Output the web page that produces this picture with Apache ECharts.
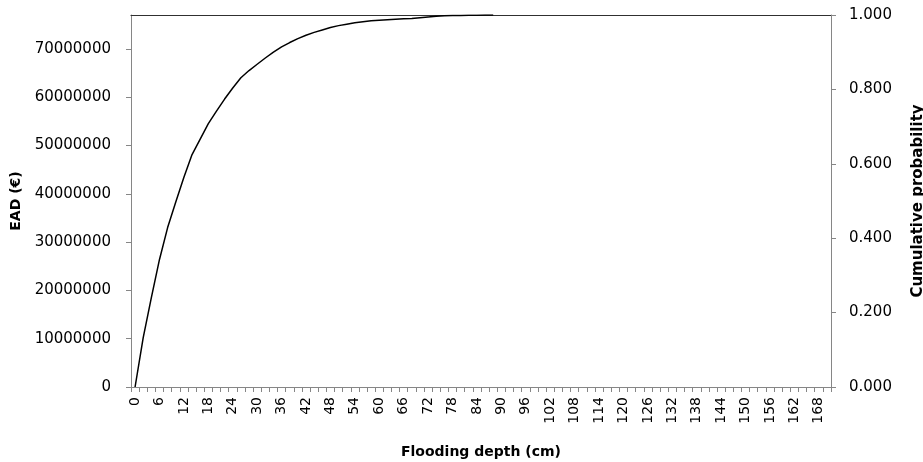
<!DOCTYPE html>
<html>
<head>
<meta charset="utf-8">
<script src="https://cdn.jsdelivr.net/npm/echarts@6/dist/echarts.min.js"></script>
<style>html,body{margin:0;padding:0;background:#fff}#c{width:923px;height:462px}</style>
</head>
<body>
<div id="c"></div>
<script>
// Flooding depth categories (cm)
var depths = ['0','2','4','6','8','10','12','14','16','18','20','22','24','26','28','30','32','34','36','38',
  '40','42','44','46','48','50','52','54','56','58','60','62','64','66','68','70','72','74','76','78',
  '80','82','84','86','88','90','92','94','96','98','100','102','104','106','108','110','112','114','116','118',
  '120','122','124','126','128','130','132','134','136','138','140','142','144','146','148','150','152','154','156','158',
  '160','162','164','166','168','170'];
// EAD (euro)
var ead = [0, 10200000, 18500000, 26400000, 33000000, 38300000, 43400000, 48100000, 51300000, 54500000,
  57100000, 59600000, 61900000, 64000000, 65500000, 66800000, 68100000, 69300000, 70400000, 71300000,
  72100000, 72800000, 73400000, 73900000, 74400000, 74800000, 75100000, 75400000, 75600000, 75800000,
  75900000, 76000000, 76100000, 76200000, 76300000, 76450000, 76600000, 76750000, 76850000, 76900000,
  76900000, 76950000, 76950000, 77000000, 77000000];
var eadTicks = [0, 10000000, 20000000, 30000000, 40000000, 50000000, 60000000, 70000000];
var probTicks = ['0.000', '0.200', '0.400', '0.600', '0.800', '1.000'];

var axisGray = '#868686';
var font = 'DejaVu Sans';
var chart = echarts.init(document.getElementById('c'));
chart.setOption({
  animation: false,
  backgroundColor: '#fff',
  grid: {left: 131, right: 92, top: 15, bottom: 75, containLabel: false, outerBoundsMode: 'none'},
  xAxis: [{
    type: 'category',
    data: depths,
    boundaryGap: true,
    name: 'Flooding depth (cm)',
    nameLocation: 'middle',
    nameGap: 58,
    nameTextStyle: {fontFamily: font, fontSize: 14, fontWeight: 'bold', color: '#000'},
    axisLine: {lineStyle: {color: axisGray, width: 1}},
    axisTick: {show: true, interval: 0, length: 5, lineStyle: {color: axisGray}},
    axisLabel: {interval: 2, rotate: 90, fontFamily: font, fontSize: 14, color: '#000', margin: 10},
    splitLine: {show: false}
  }, {
    type: 'category',
    data: depths,
    position: 'top',
    axisLine: {show: true, onZero: false, lineStyle: {color: '#303030', width: 1.2}},
    axisTick: {show: false},
    axisLabel: {show: false},
    splitLine: {show: false}
  }],
  yAxis: [{
    type: 'value',
    min: 0,
    max: 77000000,
    interval: 10000000,
    position: 'left',
    name: 'EAD (€)',
    nameLocation: 'middle',
    nameGap: 105,
    nameRotate: 90,
    nameTextStyle: {fontFamily: font, fontSize: 14, fontWeight: 'bold', color: '#000'},
    axisLine: {show: true, lineStyle: {color: axisGray, width: 1}},
    axisTick: {show: true, length: 5, lineStyle: {color: axisGray}},
    axisLabel: {
      fontFamily: font, fontSize: 15, color: '#000', margin: 20, showMaxLabel: false,
      formatter: function (v) { return eadTicks.indexOf(v) >= 0 ? String(v) : ''; }
    },
    splitLine: {show: false}
  }, {
    type: 'value',
    min: 0,
    max: 1,
    interval: 0.2,
    position: 'right',
    name: 'Cumulative probability',
    nameLocation: 'middle',
    nameGap: 80,
    nameRotate: 90,
    nameTextStyle: {fontFamily: font, fontSize: 15, fontWeight: 'bold', color: '#000'},
    axisLine: {show: true, lineStyle: {color: axisGray, width: 1}},
    axisTick: {show: true, length: 5, lineStyle: {color: axisGray}},
    axisLabel: {
      fontFamily: font, fontSize: 15, color: '#000', margin: 18,
      formatter: function (v) { return probTicks[Math.round(v * 5)]; }
    },
    splitLine: {show: false}
  }],
  series: [{
    type: 'line',
    name: 'EAD',
    xAxisIndex: 0,
    yAxisIndex: 0,
    data: ead,
    showSymbol: false,
    symbol: 'none',
    smooth: false,
    lineStyle: {color: '#000', width: 1.5}
  }]
});
</script>
</body>
</html>
